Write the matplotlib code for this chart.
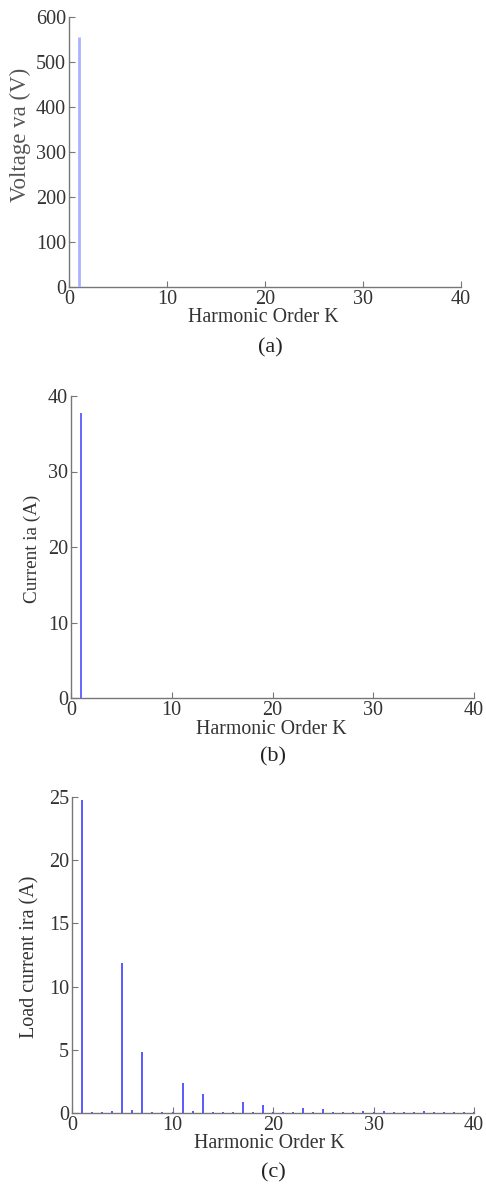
import numpy as np
import matplotlib
matplotlib.use("Agg")
import matplotlib.pyplot as plt

plt.rcParams['font.family'] = ['Liberation Serif', 'DejaVu Serif']

# harmonic orders 1..40
k = np.arange(1, 41)

# (a) supply voltage spectrum
va = [556, 0.8, 0.6, 0.5, 1.0, 0.4, 0.8, 0.3, 0.3, 0.3,
      0.5, 0.3, 0.4, 0.2, 0.2, 0.2, 0.3, 0.2, 0.3, 0.2,
      0.2, 0.2, 0.2, 0.2, 0.2, 0.2, 0.2, 0.2, 0.2, 0.2,
      0.2, 0.2, 0.2, 0.2, 0.2, 0.2, 0.2, 0.2, 0.2, 0.2]

# (b) source current spectrum
ia = [37.8, 0.03, 0.03, 0.03, 0.05, 0.03, 0.05, 0.03, 0.03, 0.03,
      0.04, 0.03, 0.04, 0.03, 0.03, 0.03, 0.03, 0.03, 0.03, 0.03,
      0.03, 0.03, 0.03, 0.03, 0.03, 0.03, 0.03, 0.03, 0.03, 0.03,
      0.03, 0.03, 0.03, 0.03, 0.03, 0.03, 0.03, 0.03, 0.03, 0.03]

# (c) load current spectrum
ira = [24.8, 0.05, 0.06, 0.16, 11.9, 0.26, 4.8, 0.04, 0.04, 0.08,
       2.37, 0.15, 1.48, 0.04, 0.04, 0.04, 0.87, 0.04, 0.65, 0.08,
       0.04, 0.04, 0.42, 0.04, 0.32, 0.04, 0.04, 0.04, 0.18, 0.1,
       0.18, 0.04, 0.04, 0.04, 0.13, 0.04, 0.04, 0.04, 0.04, 0.04]

W, H = 486, 1187
fig = plt.figure(figsize=(W / 100, H / 100), dpi=100)


def px_axes(left, right, top, bottom):
    return fig.add_axes([left / W, 1 - bottom / H, (right - left) / W, (bottom - top) / H])


def style(ax, ymax, ystep):
    for s in ['top', 'right']:
        ax.spines[s].set_visible(False)
    for s in ['left', 'bottom']:
        ax.spines[s].set_color('#777777')
        ax.spines[s].set_linewidth(1.0)
    ax.set_xlim(0, 40)
    ax.set_ylim(0, ymax)
    ax.set_xticks(np.arange(0, 41, 10))
    ax.set_yticks(np.arange(0, ymax + 1, ystep))
    ax.tick_params(direction='in', length=4, width=0.8, color='#777777',
                   labelcolor='#333333', labelsize=14.5, pad=2)


panels = [
    (px_axes(69, 461, 17, 287), va, 600, 100, '#aab2ff', 2.0,
     'Voltage va (V)', 16.5, '#555555', (20, 135), (263, 317), (270, 348), '(a)'),
    (px_axes(71, 474, 396, 698), ia, 40, 10, '#5b5bff', 1.3,
     'Current ia (A)', 13.8, '#333333', (32, 549), (271, 730), (273, 757), '(b)'),
    (px_axes(72, 474, 797, 1113), ira, 25, 5, '#4c4cff', 1.3,
     'Load current ira (A)', 14.5, '#333333', (30, 957), (269, 1143), (273, 1173), '(c)'),
]

for ax, vals, ymax, ystep, col, lw, ylab, yfs, ycol, ypos, xpos, cpos, cap in panels:
    style(ax, ymax, ystep)
    ax.vlines(k, 0, vals, colors=col, linewidth=lw, zorder=3)
    fig.text(ypos[0] / W, 1 - ypos[1] / H, ylab, rotation=90, ha='center',
             va='center', fontsize=yfs, color=ycol)
    fig.text(xpos[0] / W, 1 - xpos[1] / H, 'Harmonic Order K', ha='center',
             va='center', fontsize=14.3, color='#333333')
    fig.text(cpos[0] / W, 1 - cpos[1] / H, cap, ha='center', va='center',
             fontsize=16, color='#222222')

fig.savefig('out.png', dpi=100)
